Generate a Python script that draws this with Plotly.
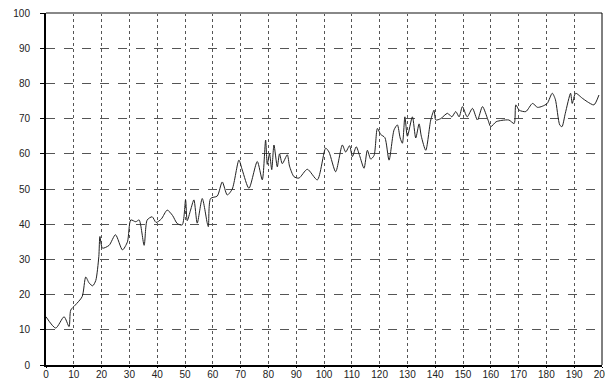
import plotly.graph_objects as go

x_vals = [0, 3.5, 6.5, 8.3, 8.9, 10.5, 13, 14.3, 15.5, 16.8, 17.9, 19, 19.4, 20.3,
          22.7, 25, 27.5, 29.3, 30.5, 32.3, 33.5, 35.3, 36.4, 38.2, 39.6, 41.5,
          43.6, 45.5, 47.2, 49, 50.2, 50.8, 52, 53.2, 54.4, 56.2, 58, 58.4, 59.2,
          61.6, 63.4, 65.2, 67, 69.4, 70.6, 73, 76, 77.8, 79, 79.6, 80.4, 81.2,
          82, 83.2, 84, 85, 86.8, 87.6, 89.2, 91, 94, 97.6, 100.6, 101.8, 104.2,
          106.6, 107.8, 109.2, 110.2, 111.6, 112.8, 114.4, 115.6, 116.8, 118,
          119.2, 120.4, 121.9, 123.4, 125.2, 126.4, 127.4, 128.2, 129.1, 130,
          131.8, 133, 134.2, 135, 136.6, 138.4, 139.6, 140.2, 142, 144.4, 146,
          147.4, 148.6, 149.8, 151.5, 153.4, 155.2, 157, 159, 160, 161.9, 164,
          166.5, 168.4, 169, 170.2, 172.6, 175, 176.8, 178.5, 180.3, 182.1,
          183.2, 184.8, 185.6, 186.8, 188.7, 189.3, 190.5, 192.9, 194.7, 197.1,
          198.9]
y_vals = [13.7, 10.5, 13.7, 10.9, 15.6, 17, 19.4, 25, 23.3, 22.5, 24, 30.8, 36.5,
          33.2, 34, 37, 32.7, 35, 41.2, 40.7, 41.2, 34, 41.2, 42.1, 40.5, 41.5,
          44, 42.5, 40.2, 39.8, 46.9, 41, 44, 46.9, 40.3, 47.3, 40.3, 39.3, 47.3,
          48, 52, 48.3, 50, 58.2, 55.4, 50.2, 57.8, 52.6, 63.9, 57, 60, 55.5,
          62.5, 56.3, 60, 57.2, 59.7, 56.5, 53.5, 53.1, 55.6, 52.6, 61.6, 60.5,
          54.9, 62.5, 60.5, 62.3, 59.2, 62, 59.5, 55.9, 61, 58.5, 59.5, 67.2,
          65.5, 64.6, 58.2, 66.8, 68.2, 64.5, 63, 70.5, 65, 70.5, 64.5, 68.5,
          65, 61, 69.6, 72.4, 69.6, 70, 71.5, 70.5, 72, 70.5, 73.4, 70.5, 72.9,
          69.6, 73.4, 69.6, 67.7, 69.1, 69.5, 69.6, 68.6, 73.9, 72.4, 72, 74.3,
          73.2, 73.5, 74.3, 77.2, 75.5, 68.2, 67.7, 71.5, 77.2, 74.3, 77.2, 75.8,
          74.8, 73.9, 76.7]

x_ticks = list(range(0, 201, 10))
y_ticks = list(range(0, 101, 10))

fig = go.Figure()
fig.add_trace(go.Scatter(x=x_vals, y=y_vals, mode="lines",
                         line=dict(color="#222222", width=1, shape="spline", smoothing=0.7),
                         hoverinfo="skip"))

fig.update_layout(
    width=605, height=379,
    margin=dict(l=46, r=3, t=13, b=14),
    paper_bgcolor="white", plot_bgcolor="white",
    showlegend=False,
    font=dict(family="Liberation Sans, Arial, sans-serif", size=10, color="#222222"),
    xaxis=dict(range=[0, 200], tickvals=x_ticks, ticktext=[str(v) for v in x_ticks],
               showgrid=True, gridcolor="#555555", griddash="dot", gridwidth=1,
               showline=True, linecolor="black", linewidth=2,
               ticks="outside", ticklen=1, tickcolor="black",
               ticklabelstandoff=-2, ticklabeloverflow="allow", automargin=False,
               zeroline=False, fixedrange=True),
    yaxis=dict(range=[0, 100], tickvals=y_ticks, ticktext=[str(v) for v in y_ticks],
               showgrid=True, gridcolor="#555555", griddash="dash", gridwidth=1,
               showline=True, linecolor="black", linewidth=2,
               ticks="outside", ticklen=4, tickcolor="black",
               ticklabelstandoff=8, automargin=False,
               zeroline=False, fixedrange=True),
    shapes=[
        dict(type="line", xref="paper", yref="paper", x0=0, x1=1, y0=1, y1=1,
             line=dict(color="#888888", width=2)),
        dict(type="line", xref="paper", yref="paper", x0=1, x1=1, y0=0, y1=1,
             line=dict(color="black", width=1)),
    ],
)

fig.write_html("out.html")
